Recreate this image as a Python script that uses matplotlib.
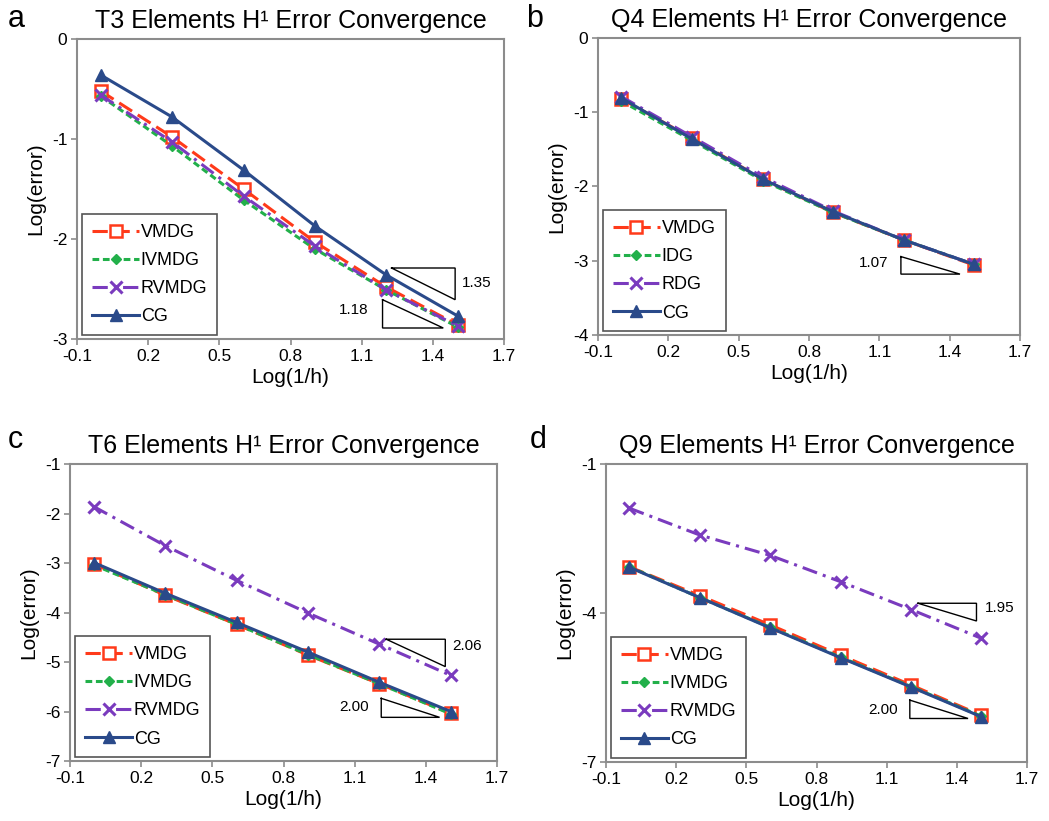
import matplotlib
matplotlib.use("Agg")
import matplotlib.pyplot as plt

plt.rcParams['font.family'] = ['Liberation Sans', 'DejaVu Sans']

# ---- data ----
log_inv_h = [0.0, 0.301, 0.602, 0.903, 1.204, 1.505]

# Panel a: T3
t3_vmdg = [-0.52, -0.98, -1.50, -2.03, -2.48, -2.86]
t3_ivmdg = [-0.57, -1.07, -1.61, -2.10, -2.51, -2.88]
t3_rvmdg = [-0.56, -1.03, -1.57, -2.07, -2.51, -2.87]
t3_cg = [-0.36, -0.78, -1.31, -1.87, -2.36, -2.77]

# Panel b: Q4
q4_vmdg = [-0.82, -1.35, -1.90, -2.35, -2.72, -3.06]
q4_idg = [-0.85, -1.38, -1.92, -2.35, -2.72, -3.05]
q4_rdg = [-0.79, -1.33, -1.87, -2.33, -2.72, -3.05]
q4_cg = [-0.81, -1.36, -1.90, -2.34, -2.72, -3.05]

# Panel c: T6
t6_vmdg = [-3.02, -3.65, -4.24, -4.86, -5.44, -6.04]
t6_ivmdg = [-3.04, -3.64, -4.24, -4.85, -5.44, -6.05]
t6_rvmdg = [-1.86, -2.65, -3.35, -4.01, -4.64, -5.27]
t6_cg = [-2.99, -3.61, -4.20, -4.80, -5.41, -6.00]

# Panel d: Q9
q9_vmdg = [-3.07, -3.65, -4.24, -4.85, -5.45, -6.06]
q9_ivmdg = [-3.07, -3.69, -4.29, -4.89, -5.48, -6.08]
q9_rvmdg = [-1.89, -2.43, -2.84, -3.37, -3.93, -4.51]
q9_cg = [-3.08, -3.69, -4.30, -4.90, -5.49, -6.09]

titles = ["T3 Elements H\u00b9 Error Convergence",
          "Q4 Elements H\u00b9 Error Convergence",
          "T6 Elements H\u00b9 Error Convergence",
          "Q9 Elements H\u00b9 Error Convergence"]
panel_letters = ["a", "b", "c", "d"]
labels_abc = ["VMDG", "IVMDG", "RVMDG", "CG"]
labels_b = ["VMDG", "IDG", "RDG", "CG"]
x_ticks = [-0.1, 0.2, 0.5, 0.8, 1.1, 1.4, 1.7]
y_ticks_a = [0, -1, -2, -3]
y_ticks_b = [0, -1, -2, -3, -4]
y_ticks_c = [-1, -2, -3, -4, -5, -6, -7]
y_ticks_d = [-1, -4, -7]

# slope triangles: (x0, x1, ytop, ybottom, kind, label, label_x, label_y)
tri_a = [(1.226, 1.494, -2.29, -2.607, "upper", "1.35", 1.585, -2.44),
         (1.188, 1.444, -2.607, -2.89, "lower", "1.18", 1.065, -2.71)]
tri_b = [(1.192, 1.444, -2.944, -3.18, "lower", "1.07", 1.075, -3.03)]
tri_c = [(1.233, 1.482, -4.54, -5.093, "upper", "2.06", 1.574, -4.675),
         (1.212, 1.458, -5.734, -6.118, "lower", "2.00", 1.098, -5.90)]
tri_d = [(1.234, 1.484, -3.804, -4.161, "upper", "1.95", 1.583, -3.89),
         (1.199, 1.448, -5.754, -6.124, "lower", "2.00", 1.085, -5.955)]

# ---- styles ----
RED = '#FF3A1A'
GREEN = '#22B04A'
PURPLE = '#7A3BBE'
BLUE = '#2A4A8A'
SPINE = '#8C8C8C'

styles = [
    dict(color=RED, lw=2.2, dashes=(5, 2.2), marker='s', ms=8,
         mfc='white', mec=RED, mew=1.8),
    dict(color=GREEN, lw=2.2, dashes=(2.2, 1.2), marker='D', ms=5.5,
         mfc=GREEN, mec=GREEN),
    dict(color=PURPLE, lw=2.2, dashes=(5, 2, 1, 2), marker='x', ms=8,
         mew=2.2, mec=PURPLE),
    dict(color=BLUE, lw=2.2, ls='-', marker='^', ms=8,
         mfc=BLUE, mec=BLUE),
]

fig = plt.figure(figsize=(10.49, 8.21), dpi=100)

positions = [
    [77 / 1049, 1 - 339 / 821, 427 / 1049, 300 / 821],
    [598 / 1049, 1 - 335 / 821, 422 / 1049, 297 / 821],
    [70 / 1049, 1 - 761 / 821, 427 / 1049, 297 / 821],
    [606 / 1049, 1 - 762 / 821, 421 / 1049, 298 / 821],
]

panels = [
    (t3_vmdg, t3_ivmdg, t3_rvmdg, t3_cg, labels_abc, y_ticks_a, (-3, 0), tri_a),
    (q4_vmdg, q4_idg, q4_rdg, q4_cg, labels_b, y_ticks_b, (-4, 0), tri_b),
    (t6_vmdg, t6_ivmdg, t6_rvmdg, t6_cg, labels_abc, y_ticks_c, (-7, -1), tri_c),
    (q9_vmdg, q9_ivmdg, q9_rvmdg, q9_cg, labels_abc, y_ticks_d, (-7, -1), tri_d),
]

letter_pos = [(8, 27), (526, 27), (8, 448), (530, 448)]

for i, (pos, panel) in enumerate(zip(positions, panels)):
    s1, s2, s3, s4, labs, yt, ylim, tris = panel
    ax = fig.add_axes(pos)
    for series, lab, st in zip((s1, s2, s3, s4), labs, styles):
        ax.plot(log_inv_h, series, label=lab, **st)
    for (x0, x1, yt_, yb, kind, lbl, lx, ly) in tris:
        if kind == "upper":
            xs = [x0, x1, x1, x0]
            ys = [yt_, yt_, yb, yt_]
        else:
            xs = [x0, x0, x1, x0]
            ys = [yt_, yb, yb, yt_]
        ax.plot(xs, ys, color='black', lw=1.0, solid_joinstyle='miter')
        ax.text(lx, ly, lbl, fontsize=11, ha='center', va='center')
    ax.set_xlim(-0.1, 1.7)
    ax.set_ylim(*ylim)
    ax.set_xticks(x_ticks)
    ax.set_xticklabels([f"{v:.1f}" for v in x_ticks])
    ax.set_yticks(yt)
    ax.set_yticklabels([str(v) for v in yt])
    for sp in ax.spines.values():
        sp.set_color(SPINE)
        sp.set_linewidth(1.5)
    ax.tick_params(axis='both', which='major', direction='out', length=4,
                   width=1.2, color=SPINE, labelsize=12.5, pad=3)
    ax.set_xlabel("Log(1/h)", fontsize=15, labelpad=3)
    ax.set_ylabel("Log(error)", fontsize=15, labelpad=5)
    ax.set_title(titles[i], fontsize=18, pad=8)
    leg = ax.legend(loc='lower left', bbox_to_anchor=(0.012, 0.012),
                    fontsize=13, handlelength=2.6, handletextpad=0.1,
                    labelspacing=0.62, borderpad=0.55, borderaxespad=0.0,
                    fancybox=False, edgecolor='#555555', framealpha=1.0)
    leg.get_frame().set_linewidth(1.2)
    lx, ly = letter_pos[i]
    fig.text(lx / 1049, 1 - ly / 821, panel_letters[i], fontsize=22,
             ha='left', va='baseline')

fig.savefig("out.png", dpi=100)
